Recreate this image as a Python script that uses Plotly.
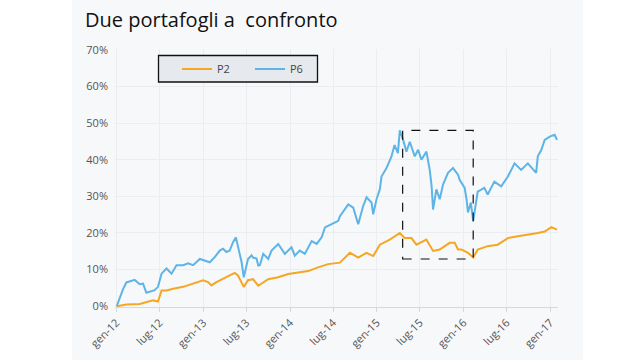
import plotly.graph_objects as go

# ---- data ----
p6_dates = [
    "2012-01-02", "2012-01-29", "2012-02-12", "2012-03-11", "2012-03-18", "2012-04-08",
    "2012-04-22", "2012-05-06", "2012-05-20", "2012-06-10", "2012-06-24", "2012-07-09",
    "2012-07-30", "2012-08-20", "2012-09-10", "2012-10-08", "2012-10-29", "2012-11-19",
    "2012-12-17", "2013-01-07", "2013-01-28", "2013-02-18", "2013-03-11", "2013-03-25",
    "2013-04-08", "2013-04-22", "2013-05-06", "2013-05-18", "2013-05-27", "2013-06-11",
    "2013-06-20", "2013-07-02", "2013-07-08", "2013-07-23", "2013-07-29", "2013-08-13",
    "2013-08-20", "2013-08-27", "2013-09-10", "2013-10-01", "2013-10-15", "2013-11-12",
    "2013-12-10", "2014-01-07", "2014-01-21", "2014-02-11", "2014-03-04", "2014-04-02",
    "2014-04-23", "2014-05-14", "2014-05-28", "2014-06-25", "2014-07-23", "2014-07-30",
    "2014-08-13", "2014-09-03", "2014-09-24", "2014-10-15", "2014-11-05", "2014-11-19",
    "2014-12-10", "2014-12-17", "2014-12-31", "2015-01-14", "2015-01-21", "2015-02-11",
    "2015-03-04", "2015-03-17", "2015-03-31", "2015-04-08", "2015-04-22", "2015-05-06",
    "2015-05-20", "2015-06-10", "2015-06-24", "2015-07-08", "2015-07-29", "2015-08-12",
    "2015-08-20", "2015-08-26", "2015-09-09", "2015-09-23", "2015-10-07", "2015-10-28",
    "2015-11-18", "2015-12-09", "2015-12-16", "2016-01-06", "2016-01-14", "2016-01-20",
    "2016-02-01", "2016-02-11", "2016-03-01", "2016-03-29", "2016-04-12", "2016-05-10",
    "2016-06-08", "2016-07-06", "2016-07-20", "2016-08-03", "2016-08-31", "2016-09-28",
    "2016-11-02", "2016-11-09", "2016-11-24", "2016-12-08", "2016-12-29", "2017-01-19",
    "2017-01-29",
]
p6_values = [
    0.0, 4.7, 6.5, 6.9, 7.2, 6.0,
    6.2, 3.7, 3.9, 4.4, 5.3, 8.9,
    10.3, 8.9, 11.2, 11.2, 11.7, 11.2,
    12.9, 12.5, 12.0, 13.4, 15.2, 15.7,
    14.8, 15.2, 17.5, 18.8, 16.1, 12.0,
    7.9, 11.2, 12.9, 13.9, 13.3, 13.0,
    11.1, 11.2, 14.3, 12.9, 15.2, 17.0,
    14.3, 16.1, 13.8, 15.2, 14.3, 17.8,
    17.0, 18.8, 21.5, 22.4, 23.3, 24.6,
    25.8, 27.8, 26.9, 22.4, 27.4, 29.7,
    28.3, 25.1, 29.2, 31.9, 35.4, 37.7,
    40.9, 44.0, 41.8, 48.0, 45.4, 42.2,
    44.9, 40.9, 42.7, 40.0, 42.2, 37.2,
    32.7, 26.4, 31.9, 29.2, 33.2, 36.4,
    37.7, 35.9, 34.5, 32.3, 29.2, 25.6,
    28.3, 23.3, 31.3, 32.3, 30.5, 34.0,
    32.7, 35.4, 37.2, 39.0, 37.2, 39.0,
    36.4, 40.9, 42.7, 45.4, 46.3, 46.8,
    45.4,
]

p2_dates = [
    "2012-01-02", "2012-02-12", "2012-04-08", "2012-05-06", "2012-06-03", "2012-06-24",
    "2012-07-09", "2012-07-30", "2012-08-27", "2012-10-08", "2012-11-19", "2012-12-31",
    "2013-01-21", "2013-02-04", "2013-02-25", "2013-03-25", "2013-04-22", "2013-05-13",
    "2013-05-27", "2013-06-11", "2013-06-20", "2013-07-08", "2013-07-29", "2013-08-20",
    "2013-10-01", "2013-11-12", "2013-12-24", "2014-02-04", "2014-03-18", "2014-04-29",
    "2014-06-10", "2014-07-30", "2014-09-10", "2014-10-15", "2014-11-19", "2014-12-17",
    "2015-01-14", "2015-02-25", "2015-04-08", "2015-04-29", "2015-05-27", "2015-06-17",
    "2015-07-29", "2015-08-26", "2015-09-23", "2015-11-04", "2015-11-25", "2015-12-09",
    "2015-12-23", "2016-01-20", "2016-02-11", "2016-03-01", "2016-04-12", "2016-05-24",
    "2016-07-06", "2016-08-17", "2016-09-28", "2016-11-09", "2016-12-08", "2017-01-05",
    "2017-01-29",
]
p2_values = [
    0.0, 0.5, 0.6, 1.1, 1.6, 1.3,
    4.3, 4.3, 4.8, 5.3, 6.2, 7.1,
    6.6, 5.7, 6.6, 7.5, 8.4, 9.1,
    8.4, 6.6, 5.3, 7.1, 7.4, 5.6,
    7.4, 7.9, 8.8, 9.2, 9.6, 10.6,
    11.5, 11.9, 14.6, 13.3, 14.6, 13.7,
    16.8, 18.2, 20.0, 18.6, 18.6, 16.8,
    18.2, 15.1, 15.5, 17.3, 17.3, 15.5,
    15.5, 14.6, 13.3, 15.5, 16.4, 16.8,
    18.6, 19.1, 19.5, 20.0, 20.4, 21.6,
    20.9,
]

tick_dates = ["2012-01-01", "2012-07-01", "2013-01-01", "2013-07-01", "2014-01-01",
              "2014-07-01", "2015-01-01", "2015-07-01", "2016-01-01", "2016-07-01",
              "2017-01-01"]
tick_labels = ["gen-12", "lug-12", "gen-13", "lug-13", "gen-14", "lug-14",
               "gen-15", "lug-15", "gen-16", "lug-16", "gen-17"]

box_x = ["2015-04-20", "2016-02-11"]
box_y = [12.9, 48.0]

title_text = "Due portafogli a\u00a0 confronto"

# ---- figure ----
ORANGE = "#F5A623"
BLUE = "#5DB4E6"
BG = "#F7F8FA"
W, H = 640, 360
L, R, T, B = 115, 82, 49, 53
pw, ph = W - L - R, H - T - B


def px_x(x):
    return (x - L) / pw


def px_y(y):
    return (H - B - y) / ph


fig = go.Figure()
fig.add_trace(go.Scatter(x=p2_dates, y=p2_values, name="P2", mode="lines",
                         line=dict(color=ORANGE, width=2)))
fig.add_trace(go.Scatter(x=p6_dates, y=p6_values, name="P6", mode="lines",
                         line=dict(color=BLUE, width=2)))

shapes = [
    # grey card background
    dict(type="rect", xref="paper", yref="paper", x0=px_x(72), x1=px_x(583),
         y0=px_y(361), y1=px_y(-1), fillcolor=BG, line=dict(width=0), layer="below"),
    # legend frame
    dict(type="rect", xref="paper", yref="paper", x0=px_x(158.5), x1=px_x(317.5),
         y0=px_y(82), y1=px_y(55.5), fillcolor="#E6E9ED",
         line=dict(color="#111111", width=1.3), layer="above"),
    # dashed highlight box
    dict(type="rect", xref="x", yref="y", x0=box_x[0], x1=box_x[1],
         y0=box_y[0], y1=box_y[1], line=dict(color="#111111", width=1.2, dash="dash"),
         fillcolor="rgba(0,0,0,0)", layer="above"),
]

fig.update_layout(
    width=W, height=H,
    margin=dict(l=L, r=R, t=T, b=B, autoexpand=False),
    paper_bgcolor="white",
    plot_bgcolor="rgba(0,0,0,0)",
    font=dict(family="Open Sans, Noto Sans, sans-serif", color="#555555", size=11),
    shapes=shapes,
    title=dict(text=title_text, x=85 / W, xanchor="left",
               y=1 - 20 / H, yanchor="middle",
               font=dict(family="Open Sans, sans-serif", size=20, color="#111111")),
    legend=dict(orientation="h", x=px_x(177), xanchor="left", y=px_y(69),
                yanchor="middle", bgcolor="rgba(0,0,0,0)", borderwidth=0,
                entrywidth=28, entrywidthmode="pixels",
                font=dict(size=11, color="#444444")),
    showlegend=True,
    hovermode=False,
)

fig.update_xaxes(
    type="date", range=["2011-12-26", "2017-02-02"], automargin=False,
    tickmode="array", tickvals=tick_dates, ticktext=tick_labels, tickangle=-45,
    showgrid=True, gridcolor="#EBEDF0", gridwidth=1,
    showline=True, linecolor="#D5D8DC", linewidth=1,
    ticks="outside", ticklen=4, tickcolor="#D5D8DC",
    tickfont=dict(size=11, color="#555555"), zeroline=False,
)
fig.update_yaxes(
    range=[-0.2, 70.2], dtick=10, tick0=0, ticksuffix="%", automargin=False,
    showgrid=True, gridcolor="#EBEDF0", gridwidth=1,
    zeroline=False, showline=False,
    tickfont=dict(size=11, color="#555555"), ticks="", ticklabelstandoff=6,
)

fig.write_html(
    "out.html",
    config={"displayModeBar": False, "staticPlot": True},
    post_script="document.body.style.margin='0';document.body.style.overflow='hidden';",
)
